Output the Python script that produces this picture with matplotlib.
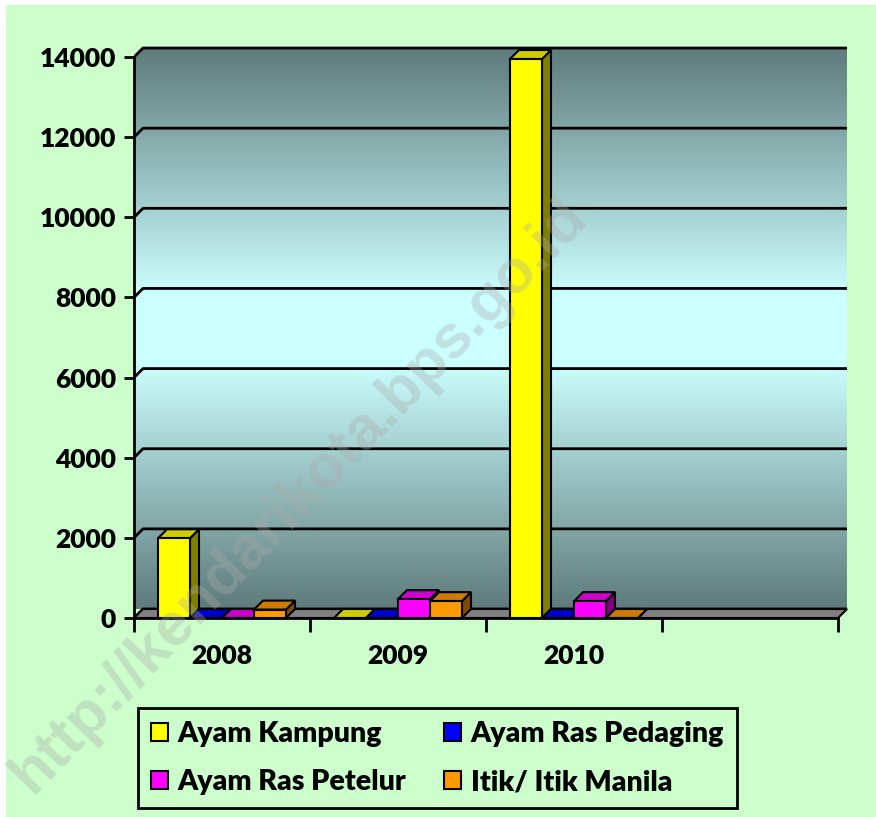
import numpy as np
import matplotlib.pyplot as plt
from matplotlib.patches import Polygon, Rectangle, Patch

# data
years = ['2008', '2009', '2010']
series = ['Ayam Kampung', 'Ayam Ras Pedaging', 'Ayam Ras Petelur', 'Itik/ Itik Manila']
kampung = [1990, 0, 13950]
pedaging = [0, 0, 0]
petelur = [0, 470, 420]
itik = [210, 420, 0]
yticks = [0, 2000, 4000, 6000, 8000, 10000, 12000, 14000]

# colours: front, top, side
colors = [('#FFFF00', '#CCCC00', '#808000'),
          ('#0000FF', '#0000CC', '#000080'),
          ('#FF00FF', '#CC00CC', '#800080'),
          ('#FF9900', '#CC7A00', '#804D00')]

plt.rcParams['font.family'] = ['Lato', 'DejaVu Sans']
plt.rcParams['font.weight'] = 'heavy'

W, H = 876, 817
fig = plt.figure(figsize=(W / 100, H / 100), dpi=100)
fig.patch.set_facecolor('white')
fig.patches.append(Rectangle((6 / W, 0), 1 - 6 / W, 1 - 5 / H, transform=fig.transFigure,
                             facecolor='#CCFFCC', edgecolor='none', zorder=-10))

px_x = 176.0          # pixels per category
px_y = 40.07 / 1000   # pixels per unit
ax = fig.add_axes([134 / W, (H - 618) / H, (850 - 134) / W, (618 - 40) / H])
ax.set_xlim(0, (850 - 134) / px_x)
ax.set_ylim(0, (618 - 40) / px_y)
ax.patch.set_alpha(0)

ncat = 4
dx = 9 / px_x
dy = 9 / px_y
top = yticks[-1]

# wall with vertical gradient
dark = np.array([0x5F, 0x7B, 0x7B]) / 255
light = np.array([0xCC, 0xFF, 0xFF]) / 255
yy = np.linspace(0, 1, 400)
t = np.clip((np.abs(yy - 0.5) / 0.5 - 0.12) / 0.88, 0, 1)
grad = (light[None, :] + (dark - light)[None, :] * t[:, None])[:, None, :]
im = ax.imshow(grad, extent=[0, ncat + dx, dy, top + dy], origin='lower',
               aspect='auto', zorder=0, interpolation='bilinear')
wall = Polygon([(0, 0), (dx, dy), (ncat + dx, dy), (ncat + dx, top + dy), (dx, top + dy), (0, top)],
               closed=True, transform=ax.transData, facecolor='none', edgecolor='none')
ax.add_patch(wall)
im.set_clip_path(wall)

for v in yticks:
    ax.plot([0, dx, ncat + dx], [v, v + dy, v + dy], color='black', lw=2, zorder=1,
            solid_capstyle='butt')

ax.add_patch(Polygon([(0, 0), (ncat, 0), (ncat + dx, dy), (dx, dy)], closed=True,
                     facecolor='#808080', edgecolor='black', lw=1.5, zorder=2))

# 3d bars
gap = 24 / px_x
bw = 32 / px_x
values = [kampung, pedaging, petelur, itik]
for c in range(len(years)):
    for i, vals in enumerate(values):
        v = vals[c]
        fc, tc, sc = colors[i]
        x0 = c + gap + i * bw
        ax.add_patch(Polygon([(x0 + bw, 0), (x0 + bw + dx, dy), (x0 + bw + dx, v + dy), (x0 + bw, v)],
                             closed=True, facecolor=sc, edgecolor='black', lw=1.5, zorder=3))
        ax.add_patch(Polygon([(x0, v), (x0 + bw, v), (x0 + bw + dx, v + dy), (x0 + dx, v + dy)],
                             closed=True, facecolor=tc, edgecolor='black', lw=1.5, zorder=3))
        ax.add_patch(Rectangle((x0, 0), bw, v, facecolor=fc, edgecolor='black', lw=1.5, zorder=3))

# axes
for s in ['top', 'right']:
    ax.spines[s].set_visible(False)
ax.spines['left'].set_bounds(0, top)
ax.spines['bottom'].set_bounds(0, ncat)
ax.spines['left'].set_linewidth(2)
ax.spines['bottom'].set_linewidth(2)
ax.spines['left'].set_zorder(4)
ax.spines['bottom'].set_zorder(4)
ax.set_yticks(yticks)
ax.set_yticklabels([str(v) for v in yticks])
ax.set_xticks(range(ncat + 1))
ax.set_xticklabels([])
ax.set_xticks([c + 0.5 for c in range(len(years))], minor=True)
ax.set_xticklabels(years, minor=True)
ax.tick_params(axis='y', direction='out', length=7, width=2, pad=6, labelsize=19)
ax.tick_params(axis='x', which='major', direction='out', length=10, width=2)
ax.tick_params(axis='x', which='minor', length=0, pad=19, labelsize=19)

# legend
handles = [Patch(facecolor=colors[i][0], edgecolor='black', lw=1.5) for i in range(4)]
order = [0, 2, 1, 3]
leg = fig.legend([handles[i] for i in order], [series[i] for i in order], ncol=2,
                 loc='upper left', bbox_to_anchor=(138 / W, 1 - 708 / H),
                 fontsize=20.5, frameon=True, fancybox=False, framealpha=1,
                 facecolor='#CCFFCC', edgecolor='black', borderaxespad=0,
                 handlelength=0.6, handleheight=0.6, handletextpad=0.35,
                 columnspacing=1.3, labelspacing=0.78, borderpad=0.45)
leg.get_frame().set_linewidth(2)

# watermark
fig.text(300 / W, 1 - 496 / H, 'http://kendarikota.bps.go.id', rotation=46,
         ha='center', va='center', rotation_mode='anchor', fontsize=44,
         family=['Liberation Sans', 'DejaVu Sans'], weight='bold', color='#aaaaaa', alpha=0.35, zorder=10)

fig.savefig('out.png', dpi=100, facecolor=fig.get_facecolor())
